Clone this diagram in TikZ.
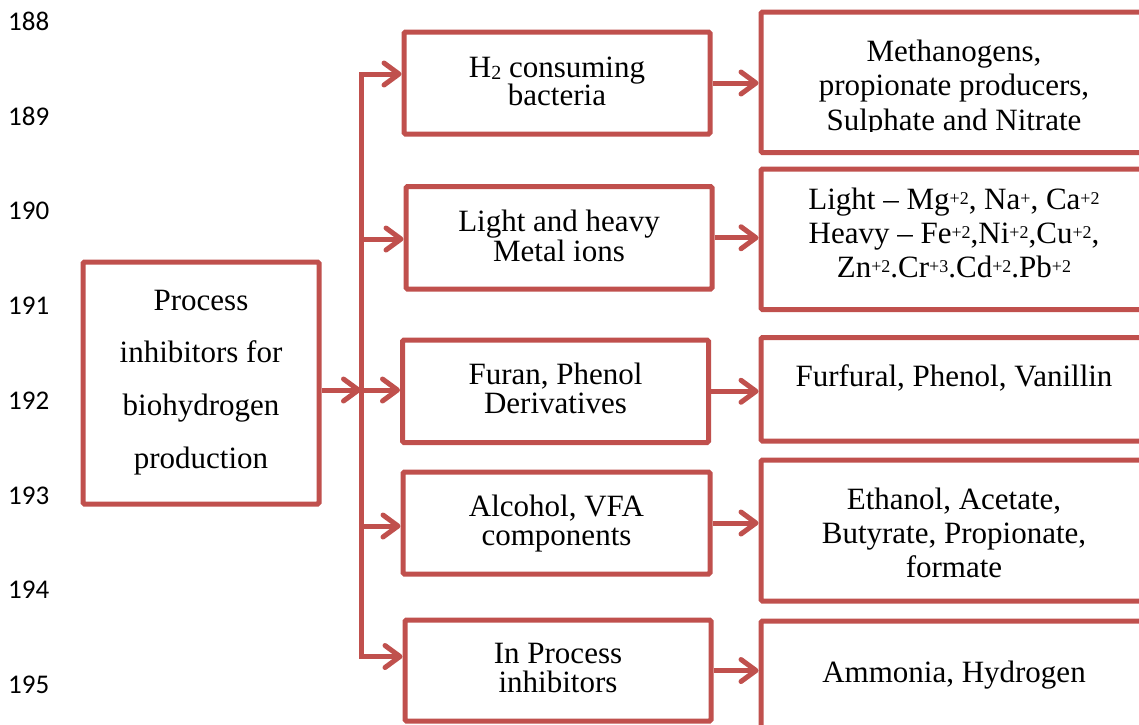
\documentclass[tikz,border=0pt]{standalone}
\usepackage{fontspec}
\setmainfont{Liberation Serif}
\newfontfamily\numfont{Carlito}
\usetikzlibrary{arrows.meta}
\definecolor{boxred}{RGB}{192,80,77}
\newcommand{\mysup}[1]{\raisebox{4.5pt}{\fontsize{18}{18}\selectfont #1}}
\newcommand{\mysub}[1]{\raisebox{-2pt}{\fontsize{20}{20}\selectfont #1}}
\begin{document}
\begin{tikzpicture}[x=1pt,y=-1pt,
  box/.style={draw=boxred, line width=5pt, rounded corners=1.5pt, inner sep=0pt, fill=white},
  conn/.style={draw=boxred, line width=5pt,
    arrows={-Straight Barb[length=15pt,width=22pt,line cap=round,line join=round]}},
  txt/.style={font=\fontsize{31}{31}\selectfont, anchor=base, inner sep=0pt},
  lnum/.style={font=\numfont\fontsize{27}{27}\selectfont, anchor=base west, inner sep=0pt, text=black}]
\useasboundingbox (0,0) rectangle (1139,724);
\fill[white] (0,0) rectangle (1139,724);
\clip (0,0) rectangle (1139,724);

% line numbers
\node[lnum] (n188) at (8,30.5) {188};
\node[lnum] (n189) at (8,125.2) {189};
\node[lnum] (n190) at (8,219.9) {190};
\node[lnum] (n191) at (8,314.6) {191};
\node[lnum] (n192) at (8,409.3) {192};
\node[lnum] (n193) at (8,504) {193};
\node[lnum] (n194) at (8,598.7) {194};
\node[lnum] (n195) at (8,693.4) {195};

% boxes
\node[box, minimum width=236pt, minimum height=242pt] (L) at (201,383) {};
\node[box, minimum width=306pt, minimum height=102pt] (m1) at (557,83) {};
\node[box, minimum width=306pt, minimum height=102.5pt] (m2) at (559,237.75) {};
\node[box, minimum width=306pt, minimum height=102.5pt] (m3) at (555.5,391.25) {};
\node[box, minimum width=307pt, minimum height=102pt] (m4) at (556.5,523) {};
\node[box, minimum width=306pt, minimum height=101pt] (m5) at (558,670.5) {};
\node[box, minimum width=386pt, minimum height=140.5pt] (r1) at (954,82.25) {};
\node[box, minimum width=386pt, minimum height=140.5pt] (r2) at (954,239.25) {};
\node[box, minimum width=386pt, minimum height=103.5pt] (r3) at (954,389.25) {};
\node[box, minimum width=386pt, minimum height=141pt] (r4) at (954,530.5) {};
\node[box, minimum width=386pt, minimum height=141pt] (r5) at (954,691.5) {};

% bus coordinates
\coordinate (b1) at (361,74);
\coordinate (b2) at (361,239);
\coordinate (b3) at (361,390);
\coordinate (b4) at (361,526);
\coordinate (b5) at (361,656.5);

% connectors
\draw[conn, arrows={Straight Barb[length=15pt,width=22pt,line cap=round,line join=round]-Straight Barb[length=15pt,width=22pt,line cap=round,line join=round]}]
  (b1 -| m1.west) -- (b1) -- (b5) -- (b5 -| m5.west);
\draw[conn] (b2) -- (b2 -| m2.west);
\draw[conn] (b3) -- (b3 -| m3.west);
\draw[conn] (b4) -- (b4 -| m4.west);
\draw[conn] (L.east |- b3) -- (b3);
\draw[conn] (m1.east) -- (m1.east -| r1.west);
\draw[conn] (m2.east) -- (m2.east -| r2.west);
\draw[conn] (m3.east) -- (m3.east -| r3.west);
\draw[conn] (m4.east) -- (m4.east -| r4.west);
\draw[conn] (m5.east) -- (m5.east -| r5.west);

% texts
\node[txt] (Lt1) at (201,310) {Process};
\node[txt] (Lt2) at (201,362.5) {inhibitors for};
\node[txt] (Lt3) at (201,415.5) {biohydrogen};
\node[txt] (Lt4) at (201,468.5) {production};

\node[txt] (m1t1) at (557,77) {H\mysub{2} consuming};
\node[txt] (m1t2) at (557,105) {bacteria};
\node[txt] (m2t1) at (559,231) {Light and heavy};
\node[txt] (m2t2) at (559,261) {Metal ions};
\node[txt] (m3t1) at (555.5,384.5) {Furan, Phenol};
\node[txt] (m3t2) at (555.5,413) {Derivatives};
\node[txt] (m4t1) at (556.5,516.5) {Alcohol, VFA};
\node[txt] (m4t2) at (556.5,545) {components};
\node[txt] (m5t1) at (558,663) {In Process};
\node[txt] (m5t2) at (558,692) {inhibitors};

\node[txt] (r1t1) at (954,61) {Methanogens,};
\node[txt] (r1t2) at (954,95.5) {propionate producers,};
\begin{scope}
  \clip (761,0) rectangle (1147,131.5);
  \node[txt] (r1t3) at (954,130) {Sulphate and Nitrate};
\end{scope}
\node[txt] (r2t1) at (954,209) {Light -- Mg\mysup{+2}, Na\mysup{+}, Ca\mysup{+2}};
\node[txt] (r2t2) at (954,243) {Heavy -- Fe\mysup{+2},Ni\mysup{+2},Cu\mysup{+2},};
\node[txt] (r2t3) at (954,277) {Zn\mysup{+2}.Cr\mysup{+3}.Cd\mysup{+2}.Pb\mysup{+2}};
\node[txt] (r3t1) at (954,386) {Furfural, Phenol, Vanillin};
\node[txt] (r4t1) at (954,509) {Ethanol, Acetate,};
\node[txt] (r4t2) at (954,543) {Butyrate, Propionate,};
\node[txt] (r4t3) at (954,577) {formate};
\node[txt] (r5t1) at (954,682) {Ammonia, Hydrogen};
\end{tikzpicture}
\end{document}
